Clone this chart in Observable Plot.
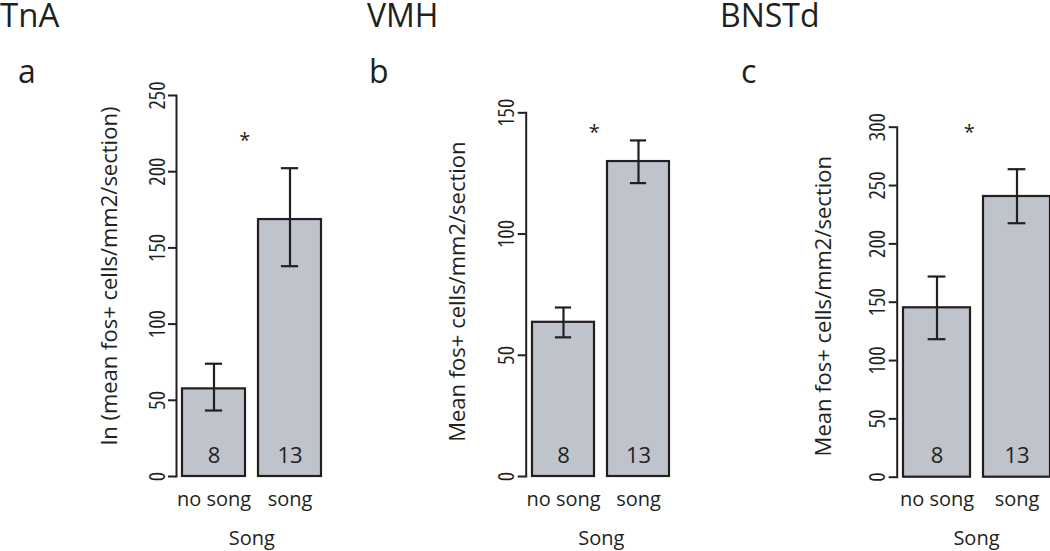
<!DOCTYPE html>
<html>
<head>
<meta charset="utf-8">
<script src="https://cdn.jsdelivr.net/npm/d3@7"></script>
<script src="https://cdn.jsdelivr.net/npm/@observablehq/plot@0.6"></script>
<style>
  html, body { margin: 0; padding: 0; background: #ffffff; }
  #wrap { position: relative; width: 1050px; height: 551px; overflow: hidden; background: #fff;
          font-family: "Open Sans", "Noto Sans", sans-serif; color: #231f20; }
  .ttl { position: absolute; font-size: 32px; line-height: 28px; white-space: nowrap; }
  .pane { position: absolute; top: 0; }
  .pane svg { max-width: none !important; }
  #wrap g[aria-label="y-axis tick label"] text { font-stretch: 85%; }
</style>
</head>
<body>
<div id="wrap">
  <div class="ttl" style="left:0px; top:1px; font-size:33px;">TnA</div>
  <div class="ttl" style="left:367px; top:1px;">VMH</div>
  <div class="ttl" style="left:720px; top:1px;">BNSTd</div>
  <div class="ttl" style="left:18px; top:57px;">a</div>
  <div class="ttl" style="left:369px; top:57px;">b</div>
  <div class="ttl" style="left:741px; top:57px;">c</div>
  <div class="pane" id="pa" style="left:0px;"></div>
  <div class="pane" id="pb" style="left:350px;"></div>
  <div class="pane" id="pc" style="left:700px;"></div>
</div>
<script>
// ---- data ----
const categories = ["no song", "song"];
const counts = [8, 13];
const xTitle = "Song";

const tnaMean = [57.5, 168.6];
const tnaLo   = [43.3, 138.0];
const tnaHi   = [74.0, 202.3];
const tnaTicks = [0, 50, 100, 150, 200, 250];
const tnaLabel = "ln (mean fos+ cells/mm2/section)";
const tnaStar = 222;

const vmhMean = [63.6, 129.9];
const vmhLo   = [57.4, 121.0];
const vmhHi   = [69.7, 138.6];
const vmhTicks = [0, 50, 100, 150];
const vmhLabel = "Mean fos+ cells/mm2/section";
const vmhStar = 142.7;

const bnstMean = [145.2, 240.6];
const bnstLo   = [118.3, 217.7];
const bnstHi   = [172.0, 264.0];
const bnstTicks = [0, 50, 100, 150, 200, 250, 300];
const bnstLabel = "Mean fos+ cells/mm2/section";
const bnstStar = 297;

// ---- styles ----
const INK = "#231f20";
const FILL = "#bfc3cc";

function panel(el, o) {
  const data = categories.map((c, i) => ({cat: c, mean: o.mean[i], lo: o.lo[i], hi: o.hi[i], n: counts[i]}));
  const frameW = o.width - o.marginLeft - o.marginRight;
  const unit = frameW / 2.376;           // bar width (R barplot layout)
  const capInset = (unit - 17.5) / 2;
  const yMax = o.ticks[o.ticks.length - 1];
  const chart = Plot.plot({
    width: o.width,
    height: 551,
    marginLeft: o.marginLeft,
    marginRight: o.marginRight,
    marginTop: o.marginTop,
    marginBottom: o.marginBottom,
    style: {fontFamily: "'Open Sans', 'Noto Sans', sans-serif", fontSize: "20px", color: INK, background: "transparent", overflow: "visible"},
    x: {type: "band", domain: categories, paddingInner: 0.2 / 1.2, paddingOuter: 0.088 / 1.2, align: 0.5},
    y: {domain: [0, yMax], nice: false},
    marks: [
      Plot.barY(data, {x: "cat", y: "mean", fill: FILL, stroke: INK, strokeWidth: 2.2}),
      Plot.ruleX(data, {x: "cat", y1: "lo", y2: "hi", stroke: INK, strokeWidth: 2.2}),
      Plot.tickY(data, {x: "cat", y: "lo", stroke: INK, strokeWidth: 2.2, insetLeft: capInset, insetRight: capInset}),
      Plot.tickY(data, {x: "cat", y: "hi", stroke: INK, strokeWidth: 2.2, insetLeft: capInset, insetRight: capInset}),
      Plot.text(data, {x: "cat", y: () => 0, text: d => String(d.n), lineAnchor: "bottom", dy: -14, fontSize: 22, fill: INK}),
      Plot.text([o.star], {x: () => categories[0], y: d => d, text: () => "*", dx: unit / 2 - 1, dy: 2, fontSize: 20, fill: INK}),
      Plot.frame({anchor: "left", stroke: INK, strokeWidth: 2}),
      Plot.axisY({ticks: o.ticks, tickSize: 8, tickPadding: 4, tickRotate: -90, label: null, fontSize: 22, stroke: INK, strokeWidth: 2, fill: INK}),
      Plot.axisX({tickSize: 0, tickPadding: 15, fontSize: 20, label: xTitle, labelAnchor: "center", labelOffset: 68, labelArrow: "none", fill: INK}),
      Plot.text([o.label], {frameAnchor: "left", rotate: -90, lineAnchor: "top", textAnchor: "middle", dx: -o.labelOffset, dy: o.labelShift, fontSize: 22, fill: INK})
    ]
  });
  document.getElementById(el).appendChild(chart);
}

panel("pa", {mean: tnaMean, lo: tnaLo, hi: tnaHi, ticks: tnaTicks, label: tnaLabel, star: tnaStar,
  width: 350, marginLeft: 176, marginRight: 23.5, marginTop: 95, marginBottom: 75, labelOffset: 75, labelShift: -10});
panel("pb", {mean: vmhMean, lo: vmhLo, hi: vmhHi, ticks: vmhTicks, label: vmhLabel, star: vmhStar,
  width: 350, marginLeft: 175.7, marginRight: 23.9, marginTop: 112.3, marginBottom: 75, labelOffset: 77, labelShift: -3});
panel("pc", {mean: bnstMean, lo: bnstLo, hi: bnstHi, ticks: bnstTicks, label: bnstLabel, star: bnstStar,
  width: 360, marginLeft: 196.7, marginRight: 4.8, marginTop: 126.7, marginBottom: 74.3, labelOffset: 82, labelShift: 4});
</script>
</body>
</html>
